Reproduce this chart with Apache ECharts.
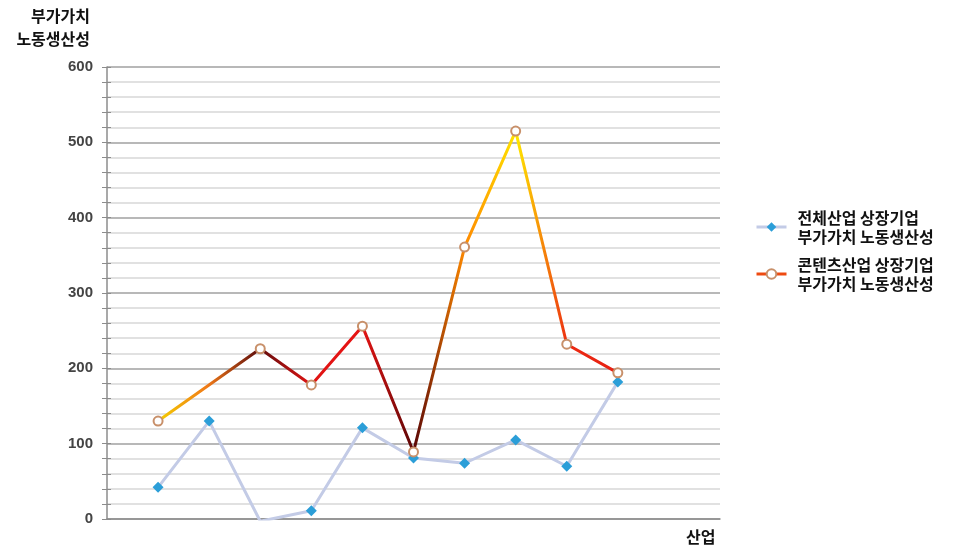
<!DOCTYPE html>
<html><head><meta charset="utf-8">
<script src="https://cdn.jsdelivr.net/npm/echarts@6/dist/echarts.min.js"></script>
<style>html,body{margin:0;padding:0;background:#fff}#c{width:953px;height:547px}</style>
</head><body><div id="c"></div>
<script>
// Categories (industries, unlabeled in the original); padded slots at both ends
const categories = ['', '1', '2', '3', '4', '5', '6', '7', '8', '9', '10', '', ''];
const seriesNames = ['전체산업 상장기업\n부가가치 노동생산성', '콘텐츠산업 상장기업\n부가가치 노동생산성'];
const allIndustry = [null, 42, 130, -3, 11, 121, 81, 74, 105, 70, 182, null, null];
const contentIndustry = [null, 130, null, 226, 178, 256, 89, 361, 515, 232, 194, null, null];
const yTicks = [0, 100, 200, 300, 400, 500, 600];
const yTitleLines = ['부가가치', '노동생산성'];
const xTitle = '산업';
const gradientColors = ['#f4d200', '#f07a18', '#5e0c0c', '#e01414', '#e61414', '#5a0606', '#ff8a00', '#ffe600', '#ec2a12', '#e62012'];

const stops = gradientColors.map((c, i) => ({ offset: i / (gradientColors.length - 1), color: c }));
const lineGrad = new echarts.graphic.LinearGradient(0, 0, 1, 0, stops, false);

const tickStyle = { color: '#8c8c8c' };
const yBase = {
  type: 'value', min: yTicks[0], max: yTicks[yTicks.length - 1], interval: 100
};

const chart = echarts.init(document.getElementById('c'));
chart.setOption({
  animation: false,
  backgroundColor: '#fff',
  grid: { left: 107, right: 233, top: 67, bottom: 28 },
  graphic: [
    { type: 'text', x: 90, y: 8, style: { text: yTitleLines[0], font: 'bold 16px "Noto Sans CJK KR"', fill: '#111', align: 'right' } },
    { type: 'text', x: 90, y: 31, style: { text: yTitleLines[1], font: 'bold 16px "Noto Sans CJK KR"', fill: '#111', align: 'right' } },
    { type: 'text', x: 686, y: 529, style: { text: xTitle, font: 'bold 16px "Noto Sans CJK KR"', fill: '#111' } }
  ],
  legend: {
    orient: 'vertical', left: 750, top: 203, itemWidth: 30, itemHeight: 12, itemGap: 9,
    textStyle: { fontSize: 16, fontWeight: 'bold', color: '#111', lineHeight: 19, fontFamily: 'Noto Sans CJK KR', padding: [0, 0, 0, 6] },
    data: [
      { name: seriesNames[0], itemStyle: { color: '#2b9ed8' }, lineStyle: { color: '#c3cbe6', width: 3 } },
      { name: seriesNames[1], itemStyle: { color: '#c8906a' }, lineStyle: { color: '#ee4a10', width: 3 } }
    ]
  },
  xAxis: {
    type: 'category', data: categories, boundaryGap: false,
    axisLine: { lineStyle: { color: '#8c8c8c', width: 1.5 } },
    axisTick: { show: false }, axisLabel: { show: false }, splitLine: { show: false }
  },
  yAxis: [
    Object.assign({}, yBase, {
      axisLine: { show: true, lineStyle: { color: '#8c8c8c', width: 1.5 } },
      axisTick: { show: true, length: 5, lineStyle: tickStyle },
      minorTick: { show: true, splitNumber: 5, length: 5, lineStyle: tickStyle },
      axisLabel: { fontSize: 15, fontWeight: 'bold', color: '#444', margin: 14, fontFamily: 'Liberation Sans' },
      splitLine: { lineStyle: { color: '#a0a0a0', width: 1.5 } },
      minorSplitLine: { show: true, lineStyle: { color: '#d8d8d8', width: 1.5 } }
    }),
    Object.assign({}, yBase, {
      position: 'left',
      axisLine: { show: false },
      axisTick: { show: true, inside: true, length: 4, lineStyle: tickStyle },
      minorTick: { show: true, splitNumber: 5, length: 4, lineStyle: tickStyle },
      axisLabel: { show: false }, splitLine: { show: false }
    })
  ],
  series: [
    { name: seriesNames[0], type: 'line', data: allIndustry, symbol: 'diamond', symbolSize: 11,
      itemStyle: { color: '#2b9ed8' }, lineStyle: { color: '#c3cbe6', width: 3 }, z: 2 },
    { name: seriesNames[1], type: 'line', data: contentIndustry, connectNulls: true, symbol: 'emptyCircle', symbolSize: 9,
      itemStyle: { color: '#c8906a', borderWidth: 1.2 }, lineStyle: { color: lineGrad, width: 3 }, z: 3 }
  ]
});
</script></body></html>
